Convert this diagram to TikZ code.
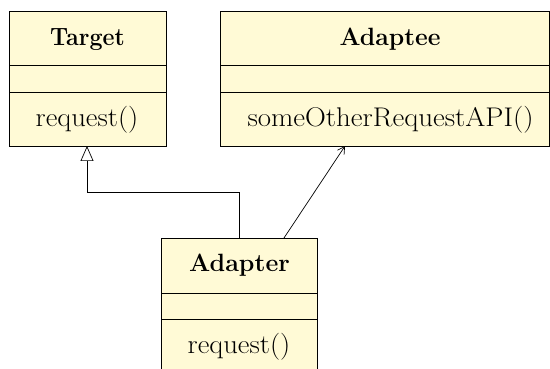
\documentclass[tikz,border=0pt]{standalone}
\usetikzlibrary{arrows.meta}
\definecolor{classfill}{RGB}{255,250,214}
\begin{document}
\begin{tikzpicture}[x=1pt,y=1pt,
  classbox/.style={draw=black, line width=0.9pt, fill=classfill, inner sep=0pt, outer sep=0pt},
  divider/.style={draw=black, line width=0.9pt},
  title/.style={font=\fontsize{25}{30}\selectfont\bfseries, anchor=base, inner sep=0pt},
  member/.style={font=\fontsize{27}{32}\selectfont, anchor=base, inner sep=0pt},
  conn/.style={draw=black, line width=0.7pt}
]
\useasboundingbox (0,0) rectangle (550,-369);
\clip (0,0) rectangle (550,-369);
% Target
\node[classbox, minimum width=157, minimum height=135] (target) at (87.5,-78.5) {};
\draw[divider] (9,-65) -- (166,-65);
\draw[divider] (9,-92) -- (166,-92);
\node[title] (ttitle) at (87.5,-45.5) {\scalebox{0.93}[1]{Target}};
\node[member] (tmeth) at (87,-126.5) {\scalebox{1.06}[1]{request()}};
% Adaptee
\node[classbox, minimum width=329, minimum height=135] (adaptee) at (384.5,-78.5) {};
\draw[divider] (220,-65) -- (549,-65);
\draw[divider] (220,-92) -- (549,-92);
\node[title] (atitle) at (390,-45.5) {\scalebox{0.99}[1]{Adaptee}};
\node[member] (ameth) at (390.5,-126.5) {\scalebox{1.07}[1]{someOtherRequestAPI()}};
% Adapter
\node[classbox, minimum width=156, minimum height=150] (adapter) at (239,-313) {};
\draw[divider] (161,-293) -- (317,-293);
\draw[divider] (161,-319) -- (317,-319);
\node[title] (adtitle) at (239.5,-271.5) {\scalebox{1.0}[1]{Adapter}};
\node[member] (admeth) at (239,-353) {\scalebox{1.06}[1]{request()}};
% connectors
\coordinate (gbend1) at (239,-192);
\coordinate (gbend2) at (87,-192);
\draw[conn, -{Triangle[open, width=13pt, length=15pt]}] (adapter.north) -- (gbend1) -- (gbend2) -- (target.south -| gbend2);
\coordinate (asrc) at (284,-238);
\coordinate (adst) at (345,-146);
\draw[conn, -{Straight Barb[length=7pt, width=8pt]}] (asrc) -- (adst);
\end{tikzpicture}
\end{document}
